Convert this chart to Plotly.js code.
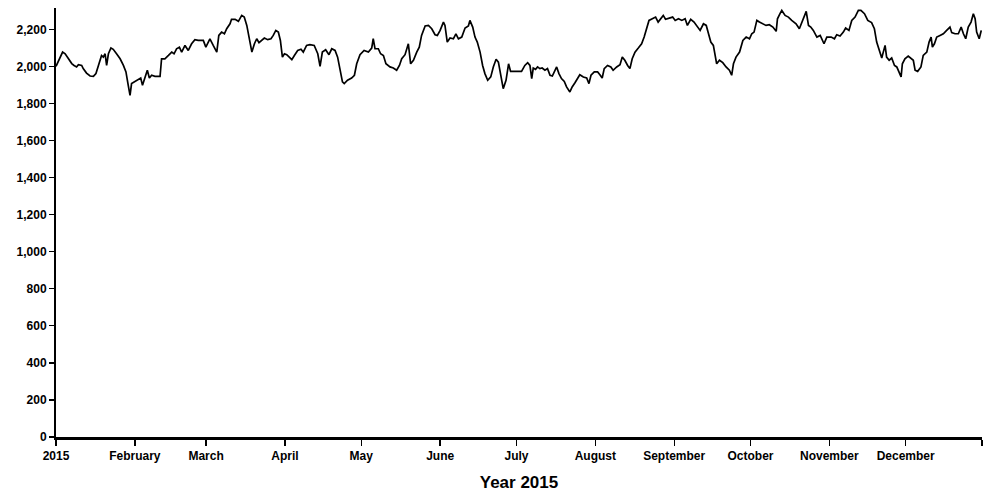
<!DOCTYPE html>
<html><head><meta charset="utf-8">
<script src="https://cdn.plot.ly/plotly-3.0.1.min.js"></script>
<style>html,body{margin:0;padding:0;background:#fff}#chart{width:987px;height:494px}</style>
</head><body><div id="chart"></div>
<script>
// day of year (0 = 1 Jan 2015) and value
var dayOfYear = [0,1,2.6,3.6,4.8,6.2,7.1,8.1,8.8,10.1,10.7,12,13.4,14.7,15.7,16.6,17.3,17.9,18.6,19.3,19.9,20.6,21.6,22.5,23.8,25.2,26.5,27.5,28.4,29.1,29.7,31,32.4,33.3,34,35,35.9,36.7,37.6,38.9,40.9,41.5,42.8,44.2,45.5,46.4,47.4,48.5,49.4,50.7,52,53.3,54.6,55.9,57.9,58.9,60.5,61.8,63.2,64,65.1,66.2,67.1,68.4,69,70.4,71.7,73,74,75,75.9,77,78,78.9,79.8,80.8,81.9,83.2,84.5,85.4,86.4,87.4,88.2,89,89.8,90.7,91.6,92.7,93.7,95,96.3,97.2,98.5,99.8,101.5,102.9,103.8,104.7,106,107.3,108.4,109.7,110.7,111.6,112.6,113.3,114.6,116.2,117.3,118.2,119.5,121.1,122.8,124.1,124.7,125.4,126.7,127.6,128.7,129.7,131.3,132.6,133.9,135,135.9,137.2,138.5,139.4,140.5,141.8,142.8,143.7,145.1,146.4,147.7,149,149.9,151,152.3,152.9,153.8,154.9,156.2,157.2,158.2,159.5,160.8,162.1,162.7,163.8,164.7,165.6,166.7,167.7,168.6,169.7,170.9,171.9,173,173.9,174.8,175.8,176.9,177.9,178.7,180.4,183,184.3,185.4,186.3,187,187.6,188.5,189.3,190.2,191.1,192.2,193.2,194.2,195.1,195.9,196.8,197.7,198.7,199.8,200.7,202,202.9,204,205,205.9,207.3,208.6,209.5,210.3,211.6,212.9,213.8,214.7,215.5,216.8,218.1,219,220.4,221.7,222.6,223.6,224.7,225.6,226.5,227.6,228.9,230.2,231.2,232.2,233.1,234.4,235.7,236.7,237.8,238.7,239.6,240.9,242.4,243.4,244.7,246,247.3,248.2,249.5,250.8,251.9,253.2,254.5,255.6,256.5,257.4,258.4,259.1,259.7,260.8,262.1,263.4,264.7,265.6,266.3,267.3,268.7,270,271.3,272.6,273.5,274.4,275.5,276.5,277.8,279.1,280.4,281.8,283.1,283.6,284.6,285.3,286.6,287.9,289.2,290.9,292.2,293.5,294.9,295.8,296.7,297.7,299.1,300.4,301.9,303,304,304.7,306,306.9,308.2,309.5,310.4,311.7,312.8,314.1,315.4,316.4,317.8,319.1,320.6,321.7,322.6,323.5,324.6,325.2,325.9,326.5,327.5,328.5,329.6,330.5,331.4,332.2,332.7,333.7,335,336.1,337,337.7,338.7,340,340.9,342.3,343.2,344,344.5,345.3,346.2,347.5,348.8,350.1,351.4,352.1,353.4,354.7,355.8,356.7,357.6,358.6,359.7,360.6,361.3,361.9,362.9,363.7];
var values = [2000,2030,2077,2068,2041,2015,2005,1997,2009,2005,1988,1964,1948,1946,1961,1997,2033,2059,2050,2068,2005,2068,2099,2092,2068,2041,2005,1970,1898,1844,1907,1919,1930,1937,1898,1943,1979,1937,1952,1946,1946,2041,2041,2059,2077,2068,2095,2104,2077,2113,2086,2122,2144,2140,2140,2104,2149,2113,2077,2167,2185,2176,2203,2230,2254,2254,2243,2275,2266,2221,2149,2077,2122,2149,2128,2140,2153,2144,2149,2167,2194,2185,2140,2050,2068,2063,2050,2036,2059,2086,2092,2077,2113,2117,2113,2068,2000,2077,2090,2063,2095,2086,2050,1979,1916,1907,1925,1937,1952,2014,2063,2086,2077,2099,2149,2095,2095,2068,2059,2014,1997,1991,1979,2005,2041,2063,2122,2014,2033,2077,2104,2167,2218,2221,2203,2171,2167,2194,2239,2221,2131,2153,2149,2176,2149,2158,2207,2218,2248,2212,2158,2131,2077,2005,1961,1925,1943,1997,2038,2023,1943,1880,1925,2014,1973,1973,1973,2005,2020,2005,1934,1991,1984,1997,1988,1991,1979,1988,1952,1948,1970,1997,1961,1934,1919,1889,1862,1889,1912,1934,1955,1943,1937,1907,1952,1970,1970,1955,1937,1988,2005,1997,1979,1997,2009,2050,2033,2005,1988,2041,2077,2099,2122,2158,2212,2248,2257,2266,2239,2257,2275,2254,2261,2266,2248,2257,2248,2257,2221,2254,2239,2221,2194,2230,2221,2176,2131,2113,2068,2014,2033,2020,1997,1979,1952,2014,2050,2077,2140,2158,2149,2176,2185,2248,2239,2230,2221,2225,2212,2189,2257,2284,2302,2275,2266,2248,2230,2203,2248,2297,2221,2212,2194,2158,2167,2122,2158,2158,2158,2149,2171,2164,2185,2207,2194,2248,2266,2302,2302,2284,2248,2236,2203,2131,2095,2045,2077,2113,2050,2033,2045,2005,1997,1970,1943,2014,2041,2056,2045,2033,1979,1973,1997,2059,2077,2131,2158,2104,2122,2158,2167,2176,2194,2212,2182,2176,2176,2212,2176,2149,2212,2239,2284,2257,2185,2149,2194];
var tickDays = [0,31,59,90,120,151,181,212,243,273,304,334,364];
var tickLabels = ['2015','February','March','April','May','June','July','August','September','October','November','December',''];
var yTicks = [0,200,400,600,800,1000,1200,1400,1600,1800,2000,2200];

var base = Date.UTC(2015,0,1);
function toDate(d){ return new Date(base + d*86400000).toISOString().slice(0,19).replace('T',' '); }
var xs = dayOfYear.map(toDate);

var trace = {x: xs, y: values, type:'scatter', mode:'lines',
  line:{color:'#000', width:1.7}, hoverinfo:'skip'};

var layout = {
  width:987, height:494,
  margin:{l:56, r:5, t:8, b:57},
  paper_bgcolor:'#fff', plot_bgcolor:'#fff',
  showlegend:false,
  font:{family:'Liberation Sans, Arial, sans-serif', size:12, color:'#000'},
  xaxis:{type:'date', range:[toDate(0), toDate(364)],
    tickmode:'array', tickvals: tickDays.map(toDate), ticktext: tickLabels,
    ticks:'outside', ticklen:6, tickwidth:1.3, tickcolor:'#000',
    showgrid:false, zeroline:false, showline:true, linecolor:'#000', linewidth:2.5,
    tickfont:{size:12, weight:'bold', color:'#000'},
    title:{text:'Year 2015', font:{size:17, weight:'bold', color:'#000'}, standoff:14}},
  yaxis:{range:[0,2315], tickmode:'array', tickvals:yTicks, tickformat:',d',
    ticks:'outside', ticklen:5, tickwidth:1.3, tickcolor:'#000',
    showgrid:false, zeroline:false, showline:true, linecolor:'#000', linewidth:2,
    tickfont:{size:12, weight:'bold', color:'#000'}}
};
Plotly.newPlot('chart',[trace],layout,{staticPlot:true, displayModeBar:false});
</script></body></html>
